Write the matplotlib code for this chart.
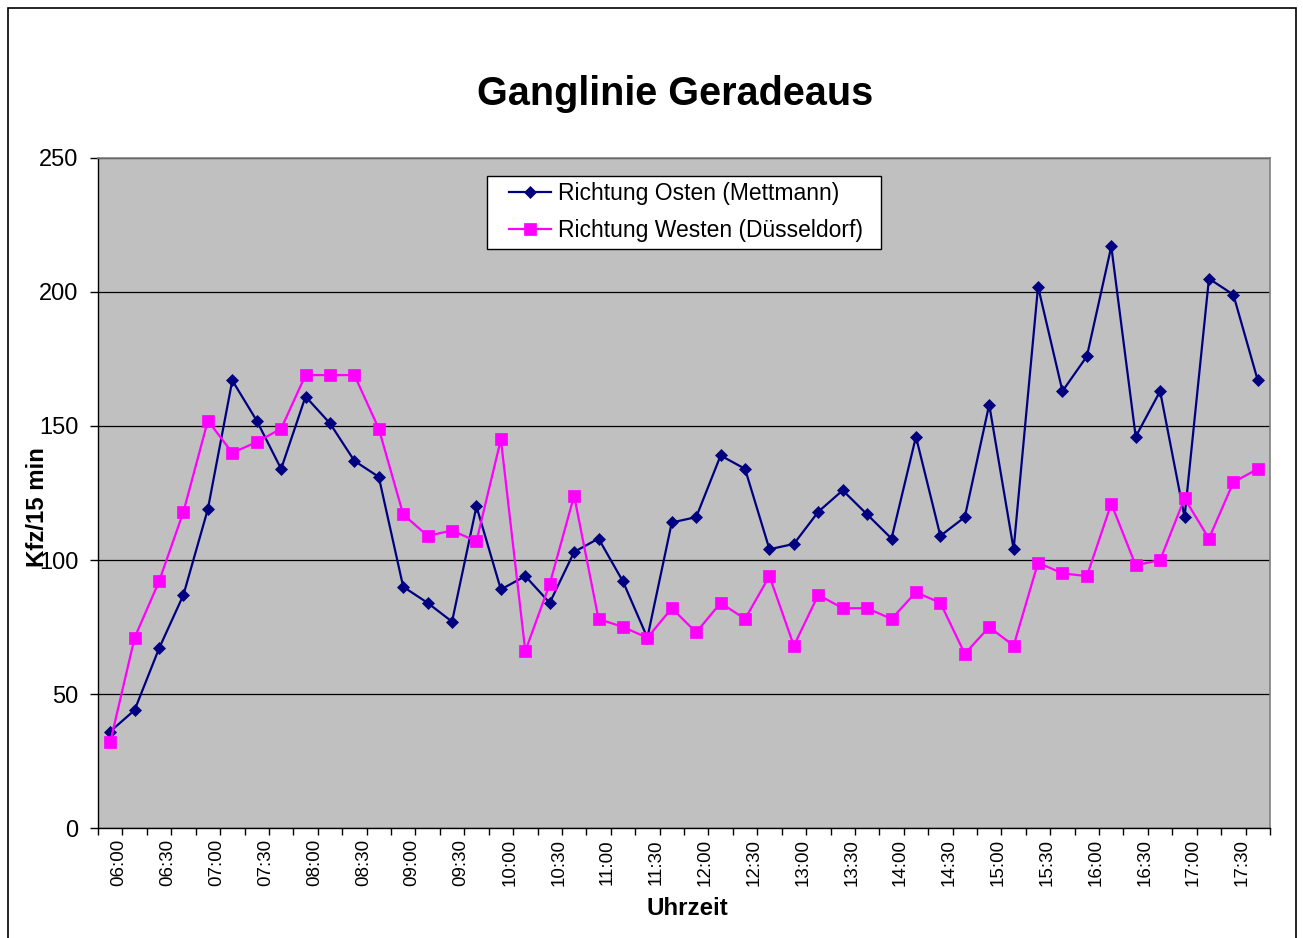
import matplotlib
matplotlib.use("Agg")
import matplotlib.pyplot as plt
from matplotlib.patches import Rectangle
from matplotlib.transforms import ScaledTranslation
import numpy as np

# 15-minute intervals from 06:00 to 17:45
times = [f"{h:02d}:{m:02d}" for h in range(6, 18) for m in (0, 15, 30, 45)]

osten = [36, 44, 67, 87, 119, 167, 152, 134, 161, 151, 137, 131,
         90, 84, 77, 120, 89, 94, 84, 103, 108, 92, 71, 114,
         116, 139, 134, 104, 106, 118, 126, 117, 108, 146, 109, 116,
         158, 104, 202, 163, 176, 217, 146, 163, 116, 205, 199, 167]

westen = [32, 71, 92, 118, 152, 140, 144, 149, 169, 169, 169, 149,
          117, 109, 111, 107, 145, 66, 91, 124, 78, 75, 71, 82,
          73, 84, 78, 94, 68, 87, 82, 82, 78, 88, 84, 65,
          75, 68, 99, 95, 94, 121, 98, 100, 123, 108, 129, 134]

label_osten = "Richtung Osten (Mettmann)"
label_westen = "Richtung Westen (Düsseldorf)"
title = "Ganglinie Geradeaus"
xlabel = "Uhrzeit"
ylabel = "Kfz/15 min"

plt.rcParams['font.family'] = ['Liberation Sans', 'DejaVu Sans']

W, H = 1303, 938
fig = plt.figure(figsize=(W / 100, H / 100), dpi=100)
fig.patch.set_facecolor("white")

# outer chart frame
fig.add_artist(Rectangle((8 / W, -0.01), (1296 - 8) / W, (H - 8) / H + 0.01,
                         transform=fig.transFigure, fill=False,
                         edgecolor="black", linewidth=1.2))

left, right, top, bottom = 98, 1270, 158, 828
pw, ph = right - left, bottom - top
ax = fig.add_axes([left / W, 1 - bottom / H, pw / W, ph / H])
ax.set_facecolor("#C0C0C0")

x = np.arange(len(times))
ax.plot(x, osten, color="#000080", linewidth=1.6, marker="D", markersize=5.8,
        markeredgewidth=0.5, markerfacecolor="#000080", markeredgecolor="#000080",
        label=label_osten, zorder=3)
ax.plot(x, westen, color="#FF00FF", linewidth=1.6, marker="s", markersize=8,
        markeredgewidth=0.5, markerfacecolor="#FF00FF", markeredgecolor="#FF00FF",
        label=label_westen, zorder=3)

ax.set_ylim(0, 250)
ax.set_yticks(np.arange(0, 251, 50))
ax.yaxis.grid(True, color="black", linewidth=0.9)
ax.set_axisbelow(True)
ax.tick_params(axis="y", labelsize=17, direction="out", length=6, width=1, pad=8)

ax.set_xlim(-0.5, len(times) - 0.5)
ax.set_xticks(np.arange(-0.5, len(times), 1.0))
ax.set_xticklabels([])
ax.set_xticks(x[::2], minor=True)
ax.set_xticklabels(times[::2], minor=True, rotation=90, fontsize=13.5)
ax.tick_params(axis="x", which="major", direction="out", length=5, width=1)
ax.tick_params(axis="x", which="minor", length=0, pad=8)
shift = ScaledTranslation(9 / 100, 0, fig.dpi_scale_trans)
for lbl in ax.get_xticklabels(minor=True):
    lbl.set_transform(lbl.get_transform() + shift)

for side in ("top", "right"):
    ax.spines[side].set_color("#808080")
    ax.spines[side].set_linewidth(1.2)
for side in ("left", "bottom"):
    ax.spines[side].set_color("black")
    ax.spines[side].set_linewidth(1.0)

fig.text(675 / W, 1 - 105 / H, title, ha="center", va="baseline",
         fontsize=28.5, fontweight="bold")
fig.text(687 / W, 1 - 915 / H, xlabel, ha="center", va="baseline",
         fontsize=17.4, fontweight="bold")
fig.text(38 / W, 1 - 507 / H, ylabel, ha="center", va="center",
         fontsize=17.3, fontweight="bold", rotation=90)

# legend box
ax.add_patch(Rectangle(((487 - left) / pw, 1 - (249 - top) / ph),
                       (881 - 487) / pw, (249 - 176) / ph,
                       transform=ax.transAxes, facecolor="white",
                       edgecolor="black", linewidth=1.0, zorder=4))
leg = ax.legend(loc="upper left",
                bbox_to_anchor=((509 - left) / pw, 1 - (182 - top) / ph),
                fontsize=16.5, frameon=False, handlelength=1.85, borderpad=0,
                labelspacing=0.6, handletextpad=0.3, borderaxespad=0)
leg.set_zorder(5)

fig.savefig("out.png", dpi=100)
